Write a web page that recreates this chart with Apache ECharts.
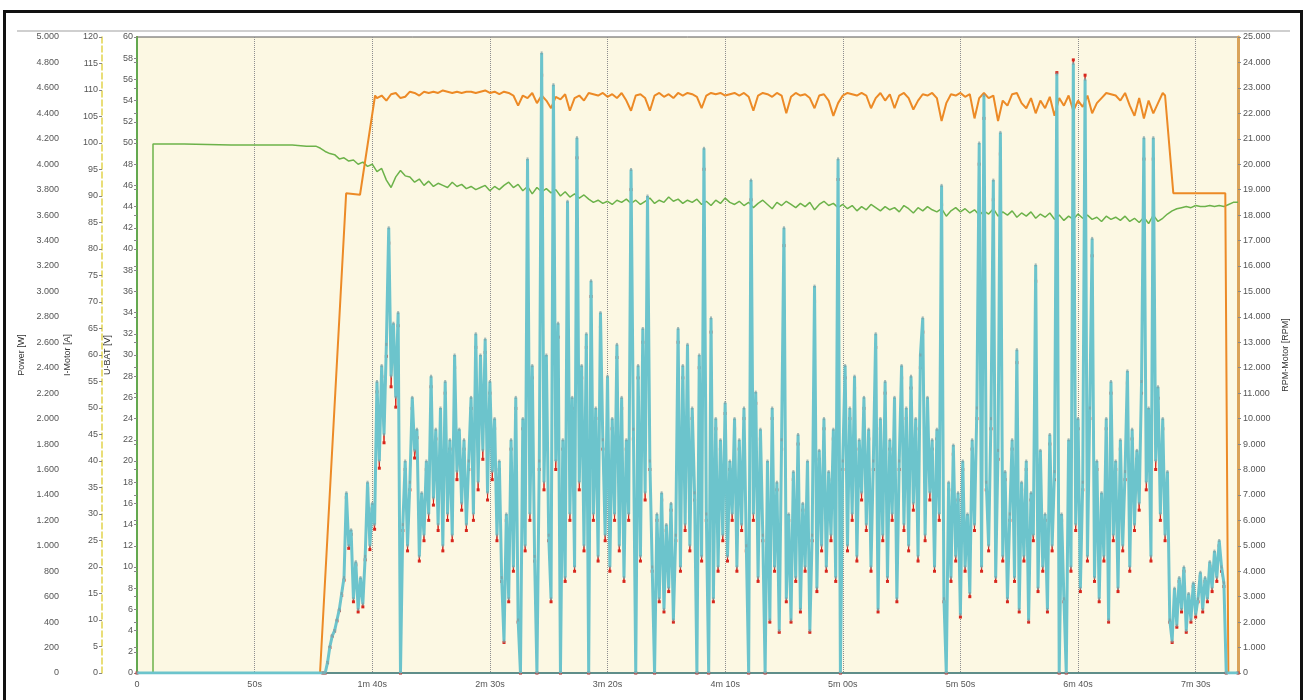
<!DOCTYPE html>
<html><head><meta charset="utf-8">
<script src="https://cdn.jsdelivr.net/npm/echarts@6/dist/echarts.min.js"></script>
<style>html,body{margin:0;padding:0;background:#fff;}#c{width:1304px;height:700px;}</style>
</head><body><div id="c"></div>
<script>
// ---------- DATA ----------
// Motor current [A], one sample per second starting at currentStartTime
const currentStartTime = 79;
const motorCurrent = [
0,0,2,5,7,8,10,12,15,18,
34,24,27,14,21,12,18,13,22,36,
24,32,28,55,40,58,45,62,84,56,
66,52,68,0,28,40,24,36,52,42,
46,22,34,26,40,30,56,33,46,28,
50,24,55,30,44,26,60,38,46,32,
44,28,40,52,30,64,36,60,42,63,
34,55,38,48,26,40,18,6,30,14,
44,20,52,10,0,48,24,97,30,58,
22,0,40,117,36,60,26,14,111,40,
66,0,44,18,89,30,52,20,101,36,
58,24,64,0,74,30,50,22,68,44,
26,56,20,48,30,62,24,52,18,44,
30,95,46,0,58,22,65,34,90,40,
20,0,30,14,34,12,28,16,32,10,
26,65,20,58,28,62,24,50,34,0,
60,22,99,30,0,67,14,48,20,44,
26,51,22,40,30,48,20,44,28,50,
24,0,93,30,53,18,46,26,0,40,
10,50,20,36,8,44,84,14,30,10,
38,18,45,12,32,20,40,8,26,73,
16,42,24,48,20,38,26,46,18,97,
0,40,58,24,50,30,56,22,44,34,
52,28,46,20,40,64,12,48,26,55,
18,44,30,52,14,40,58,28,50,24,
56,32,48,22,60,67,26,52,34,44,
20,46,30,92,14,0,36,18,43,22,
34,11,40,20,30,15,44,28,50,100,
20,109,36,24,48,93,18,42,102,22,
38,14,30,44,18,61,12,36,22,40,
10,34,26,77,16,42,20,30,12,45,
24,38,113,0,30,14,0,44,20,115,
28,48,16,36,112,22,50,82,18,40,
14,34,22,48,10,55,26,40,16,44,
24,38,57,20,46,28,42,32,55,101,
36,50,22,101,40,54,30,48,26,38,
10,6,16,9,18,12,20,8,15,10,
17,11,14,19,12,18,14,21,16,23,
18,25,20,17,0
];
// Power [W], same sample times as current
const motorPower = [
0,0,80,200,290,330,410,490,610,730,
1380,980,1090,560,850,480,730,520,890,1450,
970,1290,1130,2210,1610,2330,1810,2490,3380,2250,
2650,2090,2730,0,1120,1600,960,1440,2080,1690,
1850,880,1360,1040,1600,1200,2250,1320,1840,1120,
2000,960,2200,1200,1760,1040,2400,1520,1840,1280,
1760,1120,1600,2080,1200,2560,1440,2400,1680,2520,
1360,2200,1520,1920,1040,1600,720,240,1200,560,
1760,800,2080,400,0,1920,960,3880,1200,2320,
880,0,1600,4700,1440,2400,1040,560,4450,1600,
2640,0,1760,720,3560,1200,2080,800,4050,1440,
2320,960,2560,0,2960,1200,2000,880,2720,1760,
1040,2240,800,1920,1200,2480,960,2080,720,1760,
1200,3800,1840,0,2320,880,2600,1360,3600,1600,
800,0,1200,560,1360,480,1120,640,1280,400,
1040,2600,800,2320,1120,2480,960,2000,1360,0,
2400,880,3960,1200,0,2680,560,1920,800,1760,
1040,2040,880,1600,1200,1920,800,1760,1120,2000,
960,0,3720,1200,2120,720,1840,1040,0,1600,
400,2000,800,1440,320,1760,3360,560,1200,400,
1520,720,1800,480,1280,800,1600,320,1040,2920,
640,1680,960,1920,800,1520,1040,1840,720,3880,
0,1600,2320,960,2000,1200,2240,880,1760,1360,
2080,1120,1840,800,1600,2560,480,1920,1040,2200,
720,1760,1200,2080,560,1600,2320,1120,2000,960,
2240,1280,1920,880,2400,2680,1040,2080,1360,1760,
800,1840,1200,3680,560,0,1440,720,1720,880,
1360,440,1600,800,1200,600,1760,1120,2000,4000,
800,4360,1440,960,1920,3720,720,1680,4080,880,
1520,560,1200,1760,720,2440,480,1440,880,1600,
400,1360,1040,3080,640,1680,800,1200,480,1800,
960,1520,4720,0,1200,560,0,1760,800,4820,
1120,1920,640,1440,4700,880,2000,3280,720,1600,
560,1360,880,1920,400,2200,1040,1600,640,1760,
960,1520,2280,800,1840,1120,1680,1280,2200,4040,
1440,2000,880,4040,1600,2160,1200,1920,1040,1520,
400,240,640,360,720,480,800,320,600,400,
680,440,560,760,480,720,560,840,640,920,
720,1000,800,680,0
];
const idleLead = [[0, 0]];
const idleTail = [[468, 0]];

// Battery voltage [V]
const voltageLead = [[0,0],[6.8,0],[6.8,49.9],[20,49.9],[40,49.8],[55,49.8],[66,49.8],[72,49.7]];
const voltageStartTime = 76;   // 2 s sampling
const batteryVoltage = [
49.7,49.5,49.2,49.0,48.9,48.5,48.6,48.3,48.4,48.0,
48.2,47.8,48.0,47.3,47.6,46.5,45.8,46.8,47.4,46.9,
46.8,46.3,46.6,46.0,46.4,45.9,46.2,46.0,45.8,46.3,
45.9,46.1,45.7,45.9,45.6,45.8,46.0,45.5,45.9,45.6,
46.0,46.3,45.8,46.1,45.5,45.9,45.2,45.8,45.4,45.7,
45.3,45.6,45.0,45.4,44.9,45.2,44.8,45.1,44.7,44.4,
44.6,44.3,44.5,44.2,44.6,44.4,44.7,44.3,44.6,44.2,
44.5,44.8,44.3,44.6,44.4,44.9,44.5,44.7,44.3,44.6,
44.4,44.7,44.2,44.5,44.1,44.6,44.3,44.8,44.4,44.2,
44.5,44.1,44.4,43.9,44.3,44.6,44.2,43.8,44.4,44.1,
44.5,44.2,43.9,44.3,44.0,44.4,43.7,44.2,44.5,44.1,
44.3,43.9,44.2,43.8,44.1,43.6,44.0,43.7,44.2,43.9,
43.6,44.0,43.7,43.9,43.5,44.1,43.8,43.4,43.9,43.6,
44.0,43.7,43.5,43.8,43.1,43.6,43.9,43.5,43.8,43.4,
43.7,43.2,43.6,43.3,43.8,43.1,43.5,43.2,43.6,43.0,
43.4,43.1,43.5,42.9,43.3,43.0,43.4,42.8,43.2,42.7,
43.1,42.8,43.3,42.9,43.2,42.8,43.0,42.6,43.1,42.8,
43.0,42.7,43.1,42.6,42.9,42.5,43.0,42.4,43.2,42.6,
42.9,43.3,43.6,43.8,43.9,44.0,43.9,44.1,44.0,44.0,
44.1,44.0,44.1,44.0,44.2,44.4
];
const voltageTail = [[468, 44.4]];

// Motor speed [RPM]
const rpmLead = [[0,0],[77.8,0],[88.9,18860],[94.8,18800],[101.2,22700]];
const rpmStartTime = 102;      // 2 s sampling
const motorRpm = [
22600,22700,22500,22750,22800,22600,22650,22850,22800,22700,
22850,22800,22850,22800,22900,22850,22800,22850,22800,22850,
22850,22800,22850,22900,22800,22850,22750,22850,22800,22700,
22300,22700,22600,22800,22400,22700,22500,22200,22650,22550,
22750,22100,22600,22700,22500,22800,22750,22700,22800,22650,
22750,22600,22800,22500,22100,22700,22750,22600,22100,22700,
22800,22650,22750,22600,22800,22700,22800,22750,22650,22200,
22700,22800,22750,22800,22700,22750,22800,22700,22800,22650,
22100,22700,22800,22750,22650,22800,22700,22000,22650,22800,
22700,22750,22600,22200,22700,22750,22500,21900,22400,22700,
22800,22750,22700,22800,22700,22200,22600,22800,22500,22750,
22200,22700,22800,22600,22150,22500,22750,22700,22800,22600,
21700,22400,22750,22700,22800,22650,22750,21800,22600,22800,
22600,22700,21700,22500,22300,22750,22800,22400,22200,22600,
22000,22500,22200,22650,21900,22600,22300,22700,22100,22500,
22250,22700,22000,22400,22600,22800,22750,22700,22500,22800,
22300,21900,22600,21800,22500,22000,22400,22800
];
const rpmTail = [[437,22700],[440.5,18860],[462.6,18860],[463.9,0],[468,0]];

// Axis ranges / ticks
const timeMax = 468, timeStep = 50;
const powerAxis = {min:0, max:5000, step:200};
const currentAxis = {min:0, max:120, step:5};
const voltageAxis = {min:0, max:60, step:2};
const rpmAxis = {min:0, max:25000, step:1000};

// ---------- BUILD ----------
const currentData = idleLead.concat(motorCurrent.map((v,i)=>[currentStartTime+i, v]), idleTail);
const powerData = idleLead.concat(motorPower.map((v,i)=>[currentStartTime+i, v]), idleTail);
const voltData = voltageLead.concat(batteryVoltage.map((v,i)=>[voltageStartTime+2*i, v]), voltageTail);
const rpmData = rpmLead.concat(motorRpm.map((v,i)=>[rpmStartTime+2*i, v]), rpmTail);

function fmtK(v){
  if (v >= 1000) { const k = Math.floor(v/1000); const r = v%1000; return k + '.' + String(r).padStart(3,'0'); }
  return String(v);
}
function fmtTime(v){
  if (v % timeStep !== 0) return '';
  if (v === 0) return '0';
  if (v < 60) return v + 's';
  return Math.floor(v/60) + 'm ' + String(v%60).padStart(2,'0') + 's';
}
const FONT = '"Liberation Sans", Arial, sans-serif';
const lbl = {fontSize:9, color:'#555', fontFamily:FONT};
const nm = {fontSize:9, color:'#333', fontFamily:FONT};
const tick = {show:true, length:3, lineStyle:{color:'#888', width:1}};

const chart = echarts.init(document.getElementById('c'), null, {renderer:'canvas'});
chart.setOption({
  animation:false,
  backgroundColor:'#ffffff',
  textStyle:{fontFamily:FONT},
  graphic:[
    {type:'line', shape:{x1:17,y1:31,x2:1290,y2:31}, style:{stroke:'#cfcfcf', lineWidth:2}, silent:true},
    {type:'rect', shape:{x:4.5,y:11.5,width:1297,height:700}, style:{fill:'none', stroke:'#111', lineWidth:3}, silent:true}
  ],
  grid:{left:137, right:66, top:37, bottom:27, show:true, backgroundColor:'#fcf8e3', borderColor:'#555', borderWidth:1},
  xAxis:{type:'value', min:0, max:timeMax, interval:timeStep,
    axisLine:{show:true, lineStyle:{color:'#5f8e8a', width:2}},
    axisTick:{show:false},
    axisLabel:Object.assign({formatter:fmtTime, margin:7}, lbl),
    splitLine:{show:true, lineStyle:{color:'#8e8e8e', width:1, type:'dotted'}}
  },
  yAxis:[
    {type:'value', name:'Power [W]', min:powerAxis.min, max:powerAxis.max, interval:powerAxis.step,
     position:'left', offset:74, nameLocation:'middle', nameGap:31, nameRotate:90, nameTextStyle:nm,
     axisLine:{show:true, lineStyle:{color:'#b4584b', width:2}}, axisTick:tick,
     axisLabel:Object.assign({formatter:fmtK, margin:4}, lbl), splitLine:{show:false}},
    {type:'value', name:'I-Motor [A]', min:currentAxis.min, max:currentAxis.max, interval:currentAxis.step,
     position:'left', offset:35, nameLocation:'middle', nameGap:25, nameRotate:90, nameTextStyle:nm,
     axisLine:{show:true, lineStyle:{color:'#e2d44c', width:1.5, type:'dashed'}}, axisTick:tick,
     axisLabel:Object.assign({margin:4}, lbl), splitLine:{show:false}},
    {type:'value', name:'U-BAT [V]', min:voltageAxis.min, max:voltageAxis.max, interval:voltageAxis.step,
     position:'left', offset:0, nameLocation:'middle', nameGap:21, nameRotate:90, nameTextStyle:nm,
     axisLine:{show:true, lineStyle:{color:'#63a84f', width:2}}, axisTick:tick,
     axisLabel:Object.assign({margin:4}, lbl), splitLine:{show:false}},
    {type:'value', name:'RPM-Motor [RPM]', min:rpmAxis.min, max:rpmAxis.max, interval:rpmAxis.step,
     position:'right', offset:0, nameLocation:'middle', nameGap:40, nameRotate:90, nameTextStyle:nm,
     axisLine:{show:true, lineStyle:{color:'#d9a35a', width:3}}, axisTick:tick,
     axisLabel:Object.assign({formatter:fmtK, margin:5}, lbl), splitLine:{show:false}}
  ],
  series:[
    {name:'U-BAT', type:'line', yAxisIndex:2, data:voltData, showSymbol:false, symbol:'none',
     lineStyle:{color:'#6cb24a', width:1.5}, z:2},
    {name:'RPM-Motor', type:'line', yAxisIndex:3, data:rpmData, showSymbol:false, symbol:'none',
     lineStyle:{color:'#ec8a26', width:2}, z:3},
    {name:'Power', type:'line', yAxisIndex:0, data:powerData, showSymbol:true, showAllSymbol:true,
     symbol:'rect', symbolSize:[3,3], itemStyle:{color:'#d8261c'},
     lineStyle:{color:'#d8261c', width:1}, z:4},
    {name:'I-Motor', type:'line', yAxisIndex:1, data:currentData, showSymbol:true, showAllSymbol:true,
     symbol:'rect', symbolSize:[2,3], itemStyle:{color:'#7f9ea3', opacity:0.7},
     lineStyle:{color:'#6cc4cc', width:3}, z:5}
  ]
});
</script></body></html>
